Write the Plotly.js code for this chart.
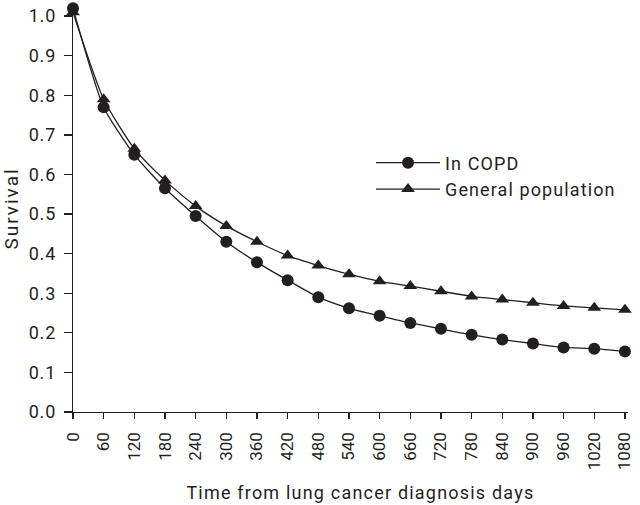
<!DOCTYPE html>
<html>
<head>
<meta charset="utf-8">
<script src="https://cdn.plot.ly/plotly-3.0.1.min.js"></script>
<style>
html,body{margin:0;padding:0;background:#fff;}
#chart{width:640px;height:505px;}
#chart .ytitle {letter-spacing: 2px;}
#chart .annotation-text {letter-spacing: 1.2px;}
#chart .legendtext {letter-spacing: 1.1px;}
#chart .legend .scrollbox {clip-path: none !important;}
#chart .ytick text {letter-spacing: 0.8px;}
</style>
</head>
<body>
<div id="chart"></div>
<script>
const days = [0,60,120,180,240,300,360,420,480,540,600,660,720,780,840,900,960,1020,1080];
const copd = [1.02,0.77,0.65,0.565,0.495,0.43,0.378,0.333,0.29,0.262,0.243,0.225,0.21,0.195,0.183,0.173,0.163,0.16,0.153];
const general = [1.01,0.79,0.665,0.585,0.52,0.47,0.43,0.395,0.37,0.348,0.33,0.318,0.305,0.292,0.284,0.276,0.268,0.263,0.258];
const tickVals = days;
const yTicks = [0,0.1,0.2,0.3,0.4,0.5,0.6,0.7,0.8,0.9,1.0];
const yTickText = ['0.0','0.1','0.2','0.3','0.4','0.5','0.6','0.7','0.8','0.9','1.0'];
const xTitle = 'Time from lung cancer diagnosis days';
const yTitle = 'Survival';

const font = 'Roboto, "Liberation Sans", sans-serif';
const ink = '#231f20';

const traces = [
  {x: days, y: copd, name: 'In COPD', mode: 'lines+markers', cliponaxis: false,
   line: {color: ink, width: 1.3, shape: 'spline', smoothing: 0.6},
   marker: {symbol: 'circle', size: 12, color: ink}},
  {x: days, y: general, name: 'General population', mode: 'lines+markers', cliponaxis: false,
   line: {color: ink, width: 1.3, shape: 'spline', smoothing: 0.6},
   marker: {symbol: 'triangle-up', size: 12, color: ink}}
];

const layout = {
  width: 640, height: 505,
  margin: {l: 73, r: 12, t: 5, b: 93},
  paper_bgcolor: '#fff', plot_bgcolor: '#fff',
  font: {family: font, color: ink, size: 18},
  showlegend: true,
  legend: {x: 0.537, y: 0.58, xanchor: 'left', yanchor: 'middle', bgcolor: 'rgba(0,0,0,0)',
           font: {family: font, size: 18, color: ink}, itemwidth: 64, tracegroupgap: 0},
  xaxis: {range: [0, 1086], tickvals: tickVals, ticktext: tickVals.map(String), tickangle: -90,
          ticks: 'outside', ticklen: 6, tickcolor: ink, tickwidth: 1.3, ticklabelstandoff: 6,
          showline: true, linecolor: ink, linewidth: 1.3, showgrid: false, zeroline: false,
          tickfont: {size: 17}},
  yaxis: {range: [0, 1.028], tickvals: yTicks, ticktext: yTickText,
          ticks: 'outside', ticklen: 8, tickcolor: ink, tickwidth: 1.3, ticklabelstandoff: 4,
          showline: true, linecolor: ink, linewidth: 1.3, showgrid: false, zeroline: false,
          tickfont: {size: 18}, title: {text: yTitle, font: {size: 19}, standoff: 10}},
  annotations: [
    {text: xTitle, xref: 'paper', yref: 'paper', x: 0.5, xshift: 10, y: -(493 - 412) / 407,
     xanchor: 'center', yanchor: 'middle', showarrow: false, font: {size: 18, color: ink}}
  ]
};

Plotly.newPlot('chart', traces, layout, {displayModeBar: false, staticPlot: true});
</script>
</body>
</html>
